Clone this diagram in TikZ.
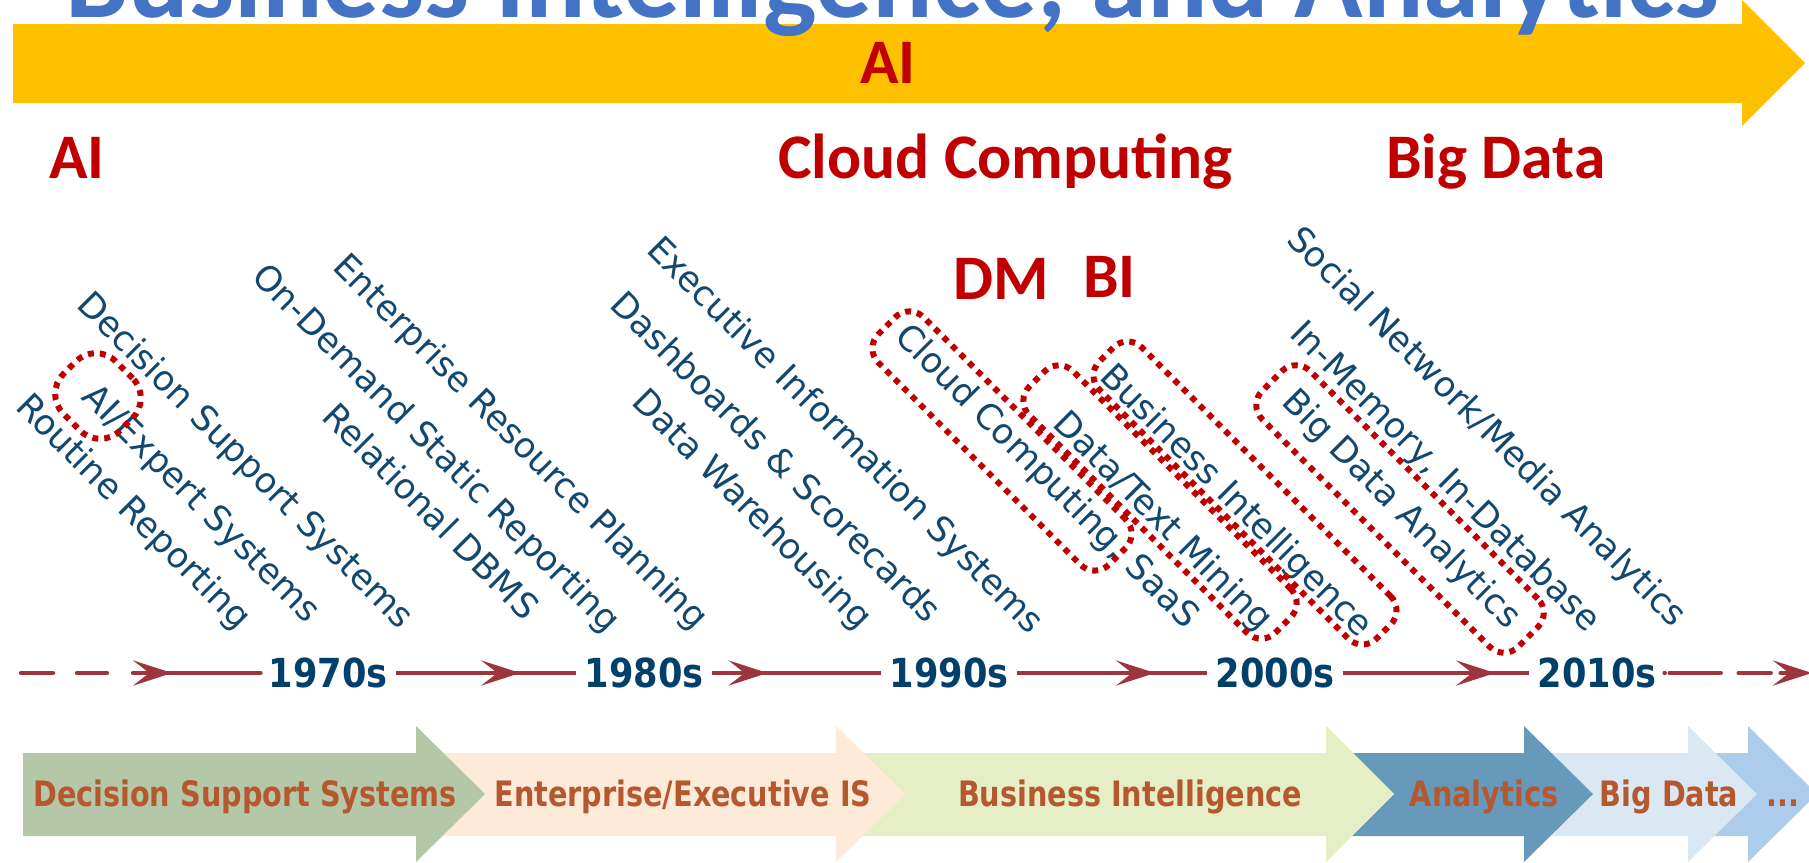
\documentclass[tikz,border=0pt]{standalone}
\usepackage{fontspec}
\setmainfont{DejaVu Sans}
\newfontfamily\headfont{Carlito}
\newfontfamily\erafont{DejaVu Sans}[FakeStretch=0.82]
\newfontfamily\yearfont{DejaVu Sans}[FakeStretch=0.88]
\usepackage{tikz}
\usetikzlibrary{arrows.meta,decorations.markings}
\definecolor{hlred}{RGB}{192,0,0}
\definecolor{itemblue}{RGB}{18,72,112}
\definecolor{yearblue}{RGB}{2,64,108}
\definecolor{tlred}{RGB}{158,52,62}
\definecolor{erabrown}{RGB}{181,88,47}
\definecolor{titleblue}{RGB}{68,114,196}
\definecolor{aiyellow}{RGB}{255,192,0}
\definecolor{dssgreen}{RGB}{180,199,167}
\definecolor{eispeach}{RGB}{253,234,216}
\definecolor{bilime}{RGB}{229,238,197}
\definecolor{anasteel}{RGB}{103,153,187}
\definecolor{bdlight}{RGB}{217,232,242}
\definecolor{nextsky}{RGB}{173,203,234}
\tikzstyle{item}=[rotate=-45,anchor=base west,inner sep=0pt,text=itemblue,font=\fontsize{35}{40}\selectfont]
\tikzstyle{hl}=[draw=hlred,line width=6pt,dash pattern=on 6pt off 6pt,rounded corners=20pt,rotate=-45,inner sep=0pt]
\tikzstyle{tech}=[anchor=base west,inner sep=0pt,text=hlred,font=\headfont\bfseries\fontsize{63.5}{70}\selectfont]
\tikzstyle{year}=[inner sep=8pt,text=yearblue,font=\yearfont\bfseries\fontsize{40}{44}\selectfont]
\tikzstyle{era}=[anchor=base,inner sep=0pt,text=erabrown,font=\erafont\bfseries\fontsize{35}{38}\selectfont]
\tikzstyle{tl}=[draw=tlred,line width=4.5pt]

\begin{document}
\begin{tikzpicture}[x=1pt,y=-1pt]
      \tikzset{midarrow/.style={postaction={decorate},decoration={markings,mark=at position #1 with {\arrow{Stealth[length=39pt,width=25pt,inset=16pt]}}}}}
      \useasboundingbox (0,0) rectangle (1809,862);
      \clip (0,0) rectangle (1809,862);
      \fill[aiyellow] (13,24) -- (1742,24) -- (1742,0) -- (1805,63) -- (1742,126) -- (1742,103) -- (13,103) -- cycle;
      \node[anchor=base west,inner sep=0pt,text=titleblue,font=\headfont\bfseries\fontsize{113}{120}\selectfont] (title) at (65,17) {Business Intelligence, and Analytics};
      \node[tech,anchor=base] (aiband) at (888,83) {AI};
      \node[tech] (ailab) at (49,178) {AI};
      \node[tech] (cclab) at (778,178) {Cloud Computing};
      \node[tech] (bdlab) at (1386,178) {Big Data};
      \node[tech] (dmlab) at (953,299) {DM};
      \node[tech] (bilab) at (1083,297) {BI};
      \node[item] (routine) at (14,408) {Routine Reporting};
      \node[item] (aiexp) at (80,398) {AI/Expert Systems};
      \node[item] (dss) at (75,306) {Decision Support Systems};
      \node[item] (rdbms) at (320,418) {Relational DBMS};
      \node[item] (ondemand) at (250,278) {On-Demand Static Reporting};
      \node[item] (erp) at (331,268) {Enterprise Resource Planning};
      \node[item] (dw) at (630,403) {Data Warehousing};
      \node[item] (dashb) at (608,306) {Dashboards \& Scorecards};
      \node[item] (eis) at (645,251) {Executive Information Systems};
      \node[item] (cloud) at (893,338) {Cloud Computing, SaaS};
      \node[item] (dtm) at (1051,425) {Data/Text Mining};
      \node[item] (bi) at (1098,378) {Business Intelligence};
      \node[item] (bda) at (1280,403) {Big Data Analytics};
      \node[item] (inmem) at (1288,335) {In-Memory, In-Database};
      \node[item] (social) at (1285,241) {Social Network/Media Analytics};
      \node[hl,rounded corners=28pt,minimum width=80pt,minimum height=74pt] (aibox) at (98,396) {};
      \node[hl,minimum width=326pt,minimum height=64pt] (cloudbox) at (1002,441) {};
      \node[hl,minimum width=348pt,minimum height=62pt] (dtmbox) at (1160,502) {};
      \node[hl,minimum width=392pt,minimum height=60pt] (bibox) at (1245,493) {};
      \node[hl,minimum width=362pt,minimum height=68pt] (bdabox) at (1400,509) {};
      \node[year] (y70) at (328,673) {1970s};
      \node[year] (y80) at (644,673) {1980s};
      \node[year] (y90) at (949,673) {1990s};
      \node[year] (y00) at (1275,673) {2000s};
      \node[year] (y10) at (1597,673) {2010s};
      \coordinate (tlstart) at (21,673);
      \coordinate (tlend) at (1812,673);
      \draw[tl,line cap=round,dash pattern=on 32pt off 24pt on 30pt off 26pt on 400pt off 0pt,midarrow=0.632] (tlstart) -- (y70.west);
      \draw[tl,midarrow=0.69] (y70.east) -- (y80.west);
      \draw[tl,midarrow=0.33] (y80.east) -- (y90.west);
      \draw[tl,midarrow=0.726] (y90.east) -- (y00.west);
      \draw[tl,midarrow=0.817] (y00.east) -- (y10.west);
      \draw[tl,line cap=round,dash pattern=on 0pt off 5pt on 51pt off 18pt on 32pt off 10pt on 100pt off 0pt,-{Stealth[length=39pt,width=25pt,inset=16pt]}] (y10.east) -- (tlend);
      \fill[nextsky] (1688,753) -- (1748,753) -- (1748,726) -- (1817,794) -- (1748,862) -- (1748,836) -- (1688,836) -- cycle;
      \fill[bdlight] (1524,753) -- (1688,753) -- (1688,726) -- (1757,794) -- (1688,862) -- (1688,836) -- (1524,836) -- cycle;
      \fill[anasteel] (1326,753) -- (1524,753) -- (1524,726) -- (1593,794) -- (1524,862) -- (1524,836) -- (1326,836) -- cycle;
      \fill[bilime] (836,753) -- (1326,753) -- (1326,726) -- (1394,794) -- (1326,862) -- (1326,836) -- (836,836) -- cycle;
      \fill[eispeach] (416,753) -- (836,753) -- (836,726) -- (905,794) -- (836,862) -- (836,836) -- (416,836) -- cycle;
      \fill[dssgreen] (23,753) -- (416,753) -- (416,726) -- (485,794) -- (416,862) -- (416,836) -- (23,836) -- cycle;
      \node[era] (dsslab) at (245,806) {Decision Support Systems};
      \node[era] (eislab) at (683,806) {Enterprise/Executive IS};
      \node[era] (bilab2) at (1130,806) {Business Intelligence};
      \node[era] (analab) at (1484,806) {Analytics};
      \node[era] (bdlab2) at (1669,806) {Big Data};
      \node[era] (nextlab) at (1783,806) {...};
    \end{tikzpicture}
\end{document}
